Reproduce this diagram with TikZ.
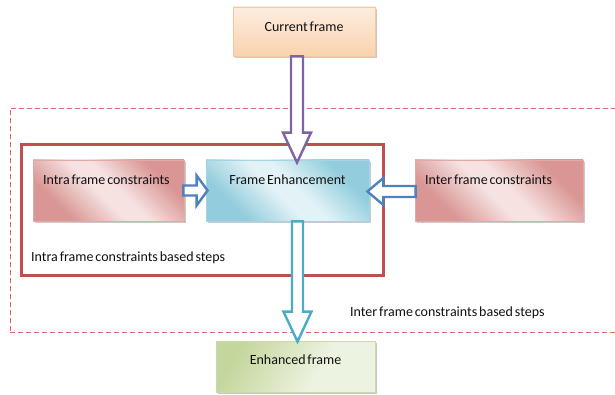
\documentclass[tikz,border=0pt]{standalone}
\usepackage{fontspec}
\setmainfont{Carlito}[WordSpace=0.6]
\usetikzlibrary{calc,shadows}
\definecolor{redD}{HTML}{D99694}
\definecolor{redL}{HTML}{F5E2E1}
\definecolor{redB}{HTML}{E3A9A7}
\definecolor{cyD}{HTML}{93CDDD}
\definecolor{cyL}{HTML}{E2F2F6}
\definecolor{cyB}{HTML}{A5D5E2}
\definecolor{grD}{HTML}{C3D69B}
\definecolor{grL}{HTML}{EDF3E1}
\definecolor{grB}{HTML}{C9DAA5}
\definecolor{orD}{HTML}{FAD2AE}
\definecolor{orL}{HTML}{FDEDE0}
\definecolor{orB}{HTML}{F8C79C}
\definecolor{purA}{HTML}{8064A2}
\definecolor{bluA}{HTML}{4F81BD}
\definecolor{cyA}{HTML}{4BACC6}
\definecolor{redF}{HTML}{C0504D}
\definecolor{redDash}{HTML}{E06666}
\definecolor{txt}{HTML}{111111}
\pgfdeclarehorizontalshading{redband}{100bp}{color(0bp)=(redD); color(28bp)=(redD); color(46bp)=(redL); color(54bp)=(redL); color(72bp)=(redD); color(100bp)=(redD)}
\pgfdeclarehorizontalshading{cyband}{100bp}{color(0bp)=(cyD); color(28bp)=(cyD); color(46bp)=(cyL); color(54bp)=(cyL); color(72bp)=(cyD); color(100bp)=(cyD)}
\pgfdeclarehorizontalshading{grband}{100bp}{color(0bp)=(grD); color(25bp)=(grD); color(60bp)=(grL); color(100bp)=(grL)}
\begin{document}
\begin{tikzpicture}[x=1pt,y=-1pt,
  font=\fontsize{14}{16}\selectfont, text=txt,
  boxbase/.style={line width=0.8pt, inner ysep=0pt, text height=10pt,
    drop shadow={shadow xshift=1.5pt, shadow yshift=-2pt, opacity=0.35, fill=black!60}},
  redbox/.style={boxbase, draw=redB, shade, shading=redband, shading angle=45,
    inner xsep=10pt, minimum height=61pt, text depth=22pt},
  cybox/.style={boxbase, draw=cyB, shade, shading=cyband, shading angle=45,
    minimum height=61pt, text depth=22pt},
  orbox/.style={boxbase, draw=orB, top color=orL, bottom color=orD,
    minimum width=142pt, minimum height=49pt, text depth=10pt},
  grbox/.style={boxbase, draw=grB, shade, shading=grband, shading angle=-30,
    minimum width=159pt, minimum height=51pt, text depth=14pt},
  blockarr/.style={line width=2.4pt, fill=white, line join=miter},
  lbl/.style={anchor=west, inner sep=0pt}]
\clip (0,0) rectangle (615,395);
\fill[white] (0,0) rectangle (615,395);
% frames
\node[draw=redDash, dash pattern=on 5pt off 3pt, line width=0.9pt,
  minimum width=615pt, minimum height=224pt, inner sep=0pt] (interframe) at (317.5,220) {};
\node[draw=redF, line width=3pt, minimum width=362pt, minimum height=130pt,
  inner sep=0pt] (intraframe) at (202,210) {};
\node[lbl] (intralbl) at (31,258) {Intra frame constraints based steps};
\node[lbl] (interlbl) at (350,313) {Inter frame constraints based steps};
% boxes
\node[orbox] (cur) at (304,31.5) {Current frame};
\node[redbox, text width=131pt] (intra) at (108.5,190.5) {\spaceskip=0pt\xspaceskip=0pt\mbox{Intra frame constraints}};
\node[cybox, minimum width=163pt] (fe) at (287.5,190.5) {Frame Enhancement};
\node[redbox, text width=148pt] (inter) at (499,190.5) {\spaceskip=0pt\xspaceskip=0pt\mbox{Inter frame constraints}};
\node[grbox] (enh) at (295.5,366.5) {Enhanced frame};
% block arrows
\draw[blockarr, draw=purA] let \p1=(cur.south), \p2=(fe.north) in
  (\x1-13pt,\y1) -- (\x1-13pt,\y2+27pt) -- (\x1-21pt,\y2+27pt) -- (\x1-7pt,\y2-3pt)
  -- (\x1+7pt,\y2+27pt) -- (\x1-1pt,\y2+27pt) -- (\x1-1pt,\y1) -- cycle;
\draw[blockarr, draw=cyA] let \p1=(fe.south), \p2=(enh.north) in
  (\x1+4.5pt,\y1) -- (\x1+4.5pt,\y2+29pt) -- (\x1-4pt,\y2+29pt) -- (\x1+10pt,\y2-1pt)
  -- (\x1+24pt,\y2+29pt) -- (\x1+15.5pt,\y2+29pt) -- (\x1+15.5pt,\y1) -- cycle;
\draw[blockarr, draw=bluA] let \p1=(intra.east), \p2=(fe.west) in
  (\x1-1pt,\y1+5pt) -- (\x2-9pt,\y1+5pt) -- (\x2-9pt,\y1+15pt) -- (\x2+2pt,\y1)
  -- (\x2-9pt,\y1-15pt) -- (\x2-9pt,\y1-5pt) -- (\x1-1pt,\y1-5pt) -- cycle;
\draw[blockarr, draw=bluA] let \p1=(inter.west), \p2=(fe.east) in
  (\x1+1pt,\y1+4.5pt) -- (\x2+14pt,\y1+4.5pt) -- (\x2+14pt,\y1+12.5pt) -- (\x2-2pt,\y1-1pt)
  -- (\x2+14pt,\y1-14.5pt) -- (\x2+14pt,\y1-6.5pt) -- (\x1+1pt,\y1-6.5pt) -- cycle;
\end{tikzpicture}
\end{document}
